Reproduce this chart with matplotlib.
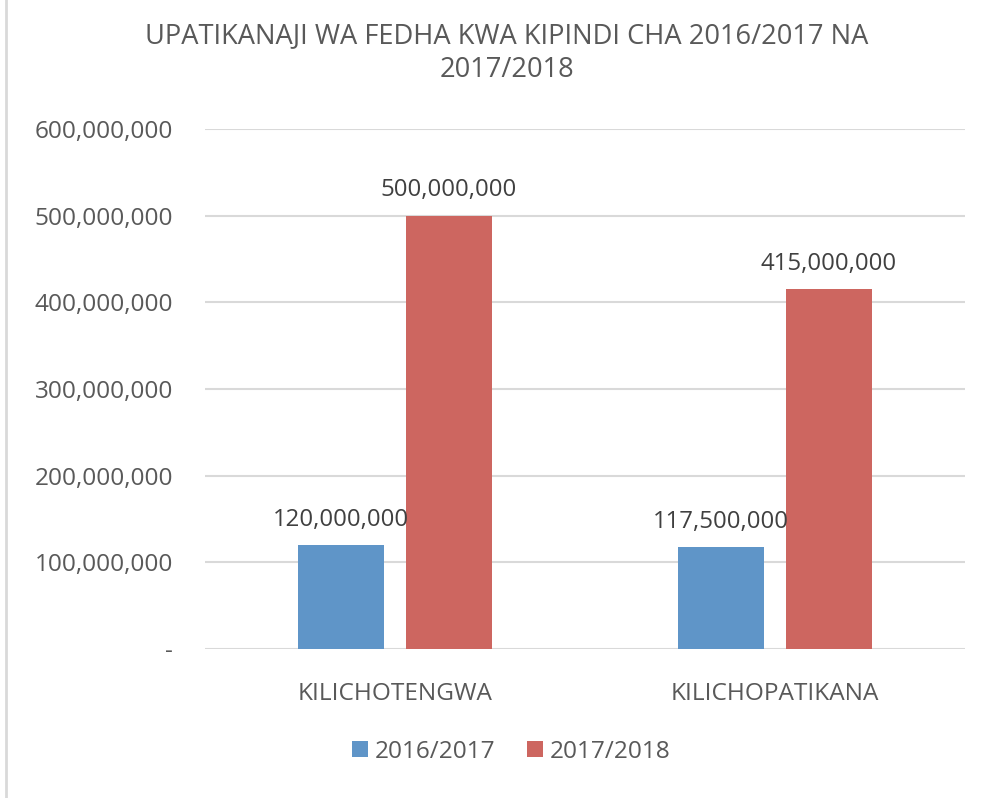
import numpy as np
import matplotlib.pyplot as plt
from matplotlib.lines import Line2D
from matplotlib.ticker import FuncFormatter

categories = ['KILICHOTENGWA', 'KILICHOPATIKANA']
series_names = ['2016/2017', '2017/2018']
values_2016 = [120000000, 117500000]
values_2017 = [500000000, 415000000]

blue = '#5F95C8'
red = '#CD6660'
grey_text = '#595959'
dark_text = '#404040'
grid_col = '#D9D9D9'

plt.rcParams['font.family'] = ['Open Sans', 'DejaVu Sans']

fig = plt.figure(figsize=(10.03, 7.98), dpi=100)
ax = fig.add_axes([205 / 1003, 1 - 649 / 798, 760 / 1003, 520 / 798])

x = np.arange(len(categories))
width = 0.224
offset = 0.142

b1 = ax.bar(x - offset, values_2016, width, color=blue, label=series_names[0])
b2 = ax.bar(x + offset, values_2017, width, color=red, label=series_names[1])

# value labels above bars
for bars in (b1, b2):
    for rect in bars:
        h = rect.get_height()
        ax.annotate(f'{h:,.0f}', (rect.get_x() + rect.get_width() / 2, h),
                    xytext=(0, 14), textcoords='offset points',
                    ha='center', va='baseline', fontsize=17.3, color=dark_text)

ax.set_xlim(-0.5, 1.5)
ax.set_ylim(0, 600000000)
ax.set_yticks(np.arange(0, 600000001, 100000000))
ax.yaxis.set_major_formatter(FuncFormatter(lambda v, p: '-' if v == 0 else f'{v:,.0f}'))
ax.set_xticks(x)
ax.set_xticklabels(categories)

ax.grid(axis='y', color=grid_col, linewidth=1.5)
ax.set_axisbelow(True)
for s in ax.spines.values():
    s.set_visible(False)
ax.tick_params(axis='both', length=0, labelsize=17.6, colors=grey_text)
ax.tick_params(axis='y', pad=23)
ax.tick_params(axis='x', pad=24)

fig.text(0.505, 1 - 53 / 798, 'UPATIKANAJI WA FEDHA KWA KIPINDI CHA 2016/2017 NA\n2017/2018',
         ha='center', va='center', fontsize=19.6, color=grey_text, linespacing=1.32)

fig.legend(loc='center', bbox_to_anchor=(0.51, 1 - 752 / 798), ncol=2, frameon=False,
           fontsize=17.6, labelcolor=grey_text, handlelength=0.62, handleheight=0.62,
           handletextpad=0.3, columnspacing=1.3)

fig.add_artist(Line2D([6 / 1003, 6 / 1003], [0, 1], color=grid_col, linewidth=2))

fig.savefig('out.png', dpi=100)
